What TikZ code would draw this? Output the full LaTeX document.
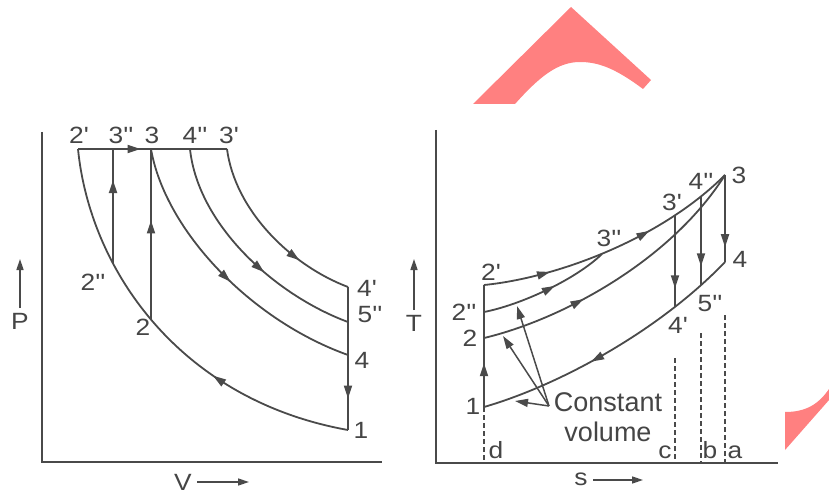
\documentclass[tikz,border=0pt]{standalone}
\usepackage{fontspec}
\setmainfont{Liberation Sans}
\newfontfamily\lblfont[FakeStretch=1.12]{Liberation Sans}
\usetikzlibrary{arrows.meta,decorations.markings}
\definecolor{lc}{HTML}{4A4A4A}
\definecolor{tc}{HTML}{454545}
\definecolor{redish}{RGB}{255,128,128}
\begin{document}
\begin{tikzpicture}[x=1pt,y=-1pt,
  ln/.style={draw=lc, line width=1.8pt},
  dsh/.style={draw=lc, line width=1.6pt, dash pattern=on 5pt off 3pt},
  arr/.style={postaction={decorate, decoration={markings,
     mark=at position #1 with {\arrow[lc]{Triangle[length=13pt,width=8pt]}}}}},
  axarr/.style={draw=lc, line width=1.6pt, -{Triangle[length=11pt,width=7pt]}},
  lbl/.style={text=tc, inner sep=0pt, font=\lblfont\fontsize{23.5}{24}\selectfont},
  big/.style={text=tc, inner sep=0pt, font=\fontsize{27}{30}\selectfont}]
\useasboundingbox (0,0) rectangle (829,494);
\fill[white] (0,0) rectangle (829,494);

% ---------- Left: P-V diagram ----------
\coordinate (Ltop) at (41.7,132);
\coordinate (Lor) at (41.7,462);
\coordinate (Lright) at (382,462);
\draw[ln] (Ltop) -- (Lor) -- (Lright);

\coordinate (A2p) at (78,149);
\coordinate (A3pp) at (113,149);
\coordinate (A3) at (151,149);
\coordinate (A4pp) at (190,149);
\coordinate (A3p) at (227,149);
\coordinate (A2pp) at (113,264);
\coordinate (A2) at (151,319);
\coordinate (A1) at (348,430);
\coordinate (A4) at (348,355);
\coordinate (A5pp) at (348,322);
\coordinate (A4p) at (348,287);

\draw[ln, arr=0.42] (A2p) -- (A3p);
\draw[ln, arr=0.35] (A1) .. controls (180,400) and (90,270) .. (A2p);
\draw[ln, arr=0.73] (A2pp) -- (A3pp);
\draw[ln, arr=0.58] (A2) -- (A3);
\draw[ln, arr=0.53] (A3) .. controls (165,230) and (250,320) .. (A4);
\draw[ln, arr=0.60] (A4pp) .. controls (198,225) and (275,295) .. (A5pp);
\draw[ln, arr=0.71] (A3p) .. controls (235,210) and (290,265) .. (A4p);
\draw[ln, arr=0.78] (A4p) -- (A1);

\node[lbl] (l2p) at (79,135) {2'};
\node[lbl] (l3pp) at (121,135) {3''};
\node[lbl] (l3) at (152,135) {3};
\node[lbl] (l4pp) at (195,135) {4''};
\node[lbl] (l3p) at (229,135) {3'};
\node[lbl] (l2ppL) at (93,282) {2''};
\node[lbl] (l2L) at (143,327) {2};
\node[lbl] (l4pL) at (367,288) {4'};
\node[lbl] (l5ppL) at (370,315) {5''};
\node[lbl] (l4L) at (362,360) {4};
\node[lbl] (l1L) at (361,430) {1};

\node[lbl] (lP) at (20,321) {P};
\coordinate (Pa) at (20,308);
\coordinate (Pb) at (20,259);
\draw[axarr] (Pa) -- (Pb);
\node[lbl] (lV) at (183,482) {V};
\coordinate (Va) at (197,482);
\coordinate (Vb) at (249,482);
\draw[axarr] (Va) -- (Vb);

% ---------- Right: T-s diagram ----------
\coordinate (Rtop) at (436,130);
\coordinate (Ror) at (436,463);
\coordinate (Rright) at (778,463);
\draw[ln] (Rtop) -- (Ror) -- (Rright);

\coordinate (B1) at (484,407);
\coordinate (B2) at (484,338);
\coordinate (B2pp) at (484,312);
\coordinate (B2p) at (484,285);
\coordinate (B3pp) at (602,254);
\coordinate (B3p) at (675,215.5);
\coordinate (B4pp) at (701,196.3);
\coordinate (B3) at (725,175);
\coordinate (B4) at (725,262);
\coordinate (B5pp) at (701,285);
\coordinate (B4p) at (675,306.6);

\draw[ln, arr=0.36] (B1) -- (B2p);
\draw[ln, arr=0.25, arr=0.65] (B2p) .. controls (555,278) and (660,240) .. (B3);
\draw[ln, arr=0.57] (B2pp) .. controls (520,305) and (575,280) .. (B3pp);
\draw[ln, arr=0.36] (B2) .. controls (560,320) and (670,262) .. (B3);
\draw[ln, arr=0.83] (B3) -- (B4);
\draw[ln, arr=0.80] (B3p) -- (B4p);
\draw[ln, arr=0.79] (B4pp) -- (B5pp);
\draw[ln, arr=0.59] (B4) .. controls (660,330) and (560,385) .. (B1);

% dashed verticals
\coordinate (Dd) at (484,463);
\coordinate (Cc0) at (675,358);
\coordinate (Cc) at (675,463);
\coordinate (Bb0) at (701,333);
\coordinate (Bb) at (701,463);
\coordinate (Aa0) at (725,315);
\coordinate (Aa) at (725,463);
\draw[dsh] (B1) -- (Dd);
\draw[dsh] (Cc0) -- (Cc);
\draw[dsh] (Bb0) -- (Bb);
\draw[dsh] (Aa0) -- (Aa);

% constant volume pointers
\coordinate (CV) at (549,406);
\coordinate (T1) at (517,306);
\coordinate (T2) at (503,336);
\coordinate (T3) at (515,401);
\draw[draw=lc, line width=1.5pt, -{Triangle[length=13pt,width=8pt]}] (CV) -- (T1);
\draw[draw=lc, line width=1.5pt, -{Triangle[length=13pt,width=8pt]}] (CV) -- (T2);
\draw[draw=lc, line width=1.5pt, -{Triangle[length=13pt,width=8pt]}] (CV) -- (T3);
\node[big] (lcon) at (608,402) {Constant};
\node[big] (lvol) at (608,432) {volume};

\node[lbl] (r2p) at (491,272) {2'};
\node[lbl] (r2pp) at (464,312) {2''};
\node[lbl] (r2) at (470,338) {2};
\node[lbl] (r1) at (473,406) {1};
\node[lbl] (r3pp) at (609,238) {3''};
\node[lbl] (r3p) at (672,202) {3'};
\node[lbl] (r4pp) at (701,181) {4''};
\node[lbl] (r3) at (739,175) {3};
\node[lbl] (r4) at (740,259) {4};
\node[lbl] (r5pp) at (710,304) {5''};
\node[lbl] (r4p) at (678,325) {4'};
\node[lbl] (ld) at (496,450) {d};
\node[lbl] (lc) at (665,452) {c};
\node[lbl] (lb) at (710,450) {b};
\node[lbl] (la) at (735,452) {a};

\node[lbl] (lT) at (414,323) {T};
\coordinate (Ta) at (414,310);
\coordinate (Tb) at (414,259);
\draw[axarr] (Ta) -- (Tb);
\node[lbl] (ls) at (581,479) {s};
\coordinate (sa) at (593,480);
\coordinate (sb) at (643,480);
\draw[axarr] (sa) -- (sb);

% ---------- red shapes ----------
\fill[redish] (473,104) -- (571,7) -- (651,80) -- (643,89)
  .. controls (615,68) and (598,62) .. (580,62)
  .. controls (558,62) and (540,76) .. (515,104) -- cycle;
\fill[redish] (785,412) .. controls (805,412) and (818,405) .. (829,389)
  -- (829,400) -- (785,450) -- cycle;
\end{tikzpicture}
\end{document}
